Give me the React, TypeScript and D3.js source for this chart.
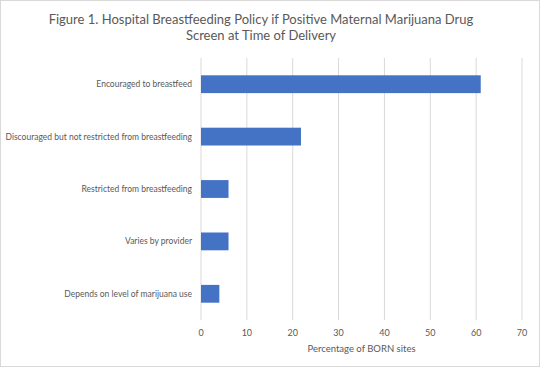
import React from "react";
import * as d3 from "d3";

const categories = [
  "Encouraged to breastfeed",
  "Discouraged but not restricted from breastfeeding",
  "Restricted from breastfeeding",
  "Varies  by provider",
  "Depends on level of marijuana use",
];
const values = [61, 21.8, 6, 6, 4];
const ticks = [0, 10, 20, 30, 40, 50, 60, 70];
const titleLines = [
  "Figure 1. Hospital Breastfeeding Policy if Positive  Maternal Marijuana Drug",
  "Screen at Time of Delivery",
];
const xTitle = "Percentage of BORN sites";

const W = 540;
const H = 368;
const FONT = "Lato, 'Open Sans', sans-serif";
const TXT = "#595959";

export default function App() {
  const x = d3.scaleLinear().domain([0, 70]).range([201, 522]);
  const y = d3
    .scaleBand<string>()
    .domain(categories)
    .range([58, 320])
    .paddingInner(0.66)
    .paddingOuter(0.33);

  return (
    <svg
      width={W}
      height={H}
      style={{ position: "absolute", left: 0, top: 0, display: "block", whiteSpace: "pre" }}
    >
      <rect x={0.5} y={0.5} width={W - 1} height={H - 2} fill="#fff" stroke="#d9d9d9" />
      {titleLines.map((t, i) => (
        <text
          key={i}
          x={261}
          y={24 + i * 16}
          textAnchor="middle"
          fontFamily={FONT}
          fontSize={13}
          fill={TXT}
        >
          {t}
        </text>
      ))}
      {ticks.map((t) => (
        <g key={t}>
          <line x1={x(t)} x2={x(t)} y1={58} y2={320} stroke="#d9d9d9" strokeWidth={1} />
          <text
            x={x(t)}
            y={336}
            textAnchor="middle"
            fontFamily={FONT}
            fontSize={9}
            fill={TXT}
          >
            {t}
          </text>
        </g>
      ))}
      {categories.map((c, i) => (
        <g key={c}>
          <rect
            x={x(0)}
            y={y(c)!}
            width={x(values[i]) - x(0)}
            height={y.bandwidth()}
            fill="#4472c4"
          />
          <text
            x={192}
            y={y(c)! + y.bandwidth() / 2}
            dy="0.35em"
            textAnchor="end"
            fontFamily={FONT}
            fontSize={8.5}
            fill={TXT}
          >
            {c}
          </text>
        </g>
      ))}
      <text
        x={(x(0) + x(70)) / 2}
        y={352}
        textAnchor="middle"
        fontFamily={FONT}
        fontSize={9.5}
        fill={TXT}
      >
        {xTitle}
      </text>
    </svg>
  );
}
